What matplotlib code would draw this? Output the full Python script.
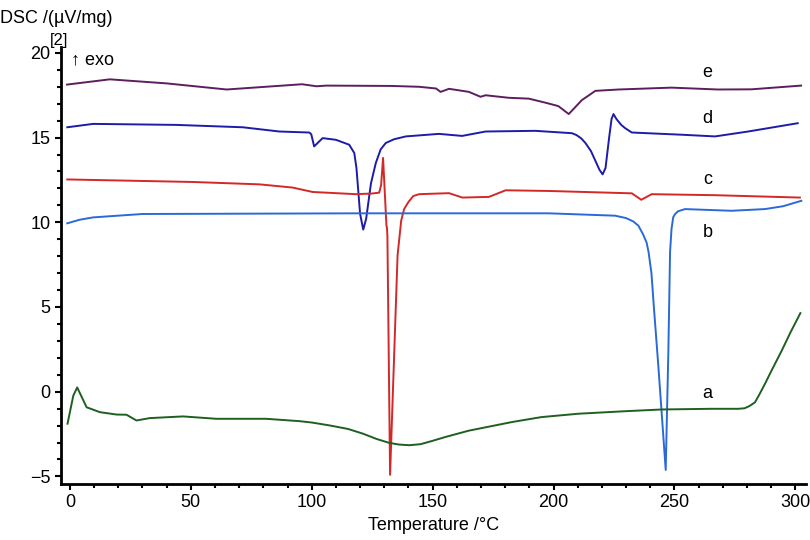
import numpy as np
import matplotlib
matplotlib.use('Agg')
import matplotlib.pyplot as plt
from matplotlib.ticker import MultipleLocator

plt.rcParams['font.family'] = ['Liberation Sans', 'DejaVu Sans']

#%% data (temperature /°C, DSC /(µV/mg))
T_e = [-1.2, 16.5, 40, 64.8, 96, 102, 106, 133, 144.4, 151.4, 153.3, 156.8, 165, 169.8, 171.9,
       181.5, 189.8, 196.7, 202, 206.3, 211.7, 217.3, 226.9, 248.8, 268, 281.8, 302.4]
y_e = [18.13, 18.44, 18.2, 17.84, 18.15, 18.03, 18.07, 18.05, 18.0, 17.9, 17.7, 17.88, 17.7, 17.41, 17.5,
       17.35, 17.3, 17.06, 16.86, 16.39, 17.21, 17.76, 17.84, 17.95, 17.84, 17.85, 18.07]

T_d = [-1.1, 9.6, 44, 71.5, 86.6, 99, 99.8, 101, 104.5, 110, 115.5, 117.6, 118.5, 120, 121.3,
       122.5, 124.5, 126.5, 128.5, 130.6, 134, 138.9, 152.6, 162.2, 171.9, 192.5, 207.6, 209.5,
       211.5, 213.2, 215.5, 219, 220.3, 221.5, 223, 224, 224.8, 226, 228, 229.6, 232.4, 253,
       266.8, 280.5, 301]
y_d = [15.61, 15.81, 15.75, 15.61, 15.36, 15.3, 15.2, 14.48, 14.97, 14.87, 14.58, 14.09, 13.2, 10.5, 9.57,
       10.2, 12.3, 13.5, 14.3, 14.68, 14.9, 15.07, 15.22, 15.1, 15.36, 15.4, 15.26, 15.15,
       14.95, 14.68, 14.2, 13.1, 12.83, 13.2, 15.0, 16.1, 16.39, 16.1, 15.75, 15.56, 15.3, 15.17,
       15.07, 15.36, 15.85]

T_c = [-1.1, 50.9, 78.4, 92.1, 100.4, 118.3, 125, 127.9, 128.7, 129.5, 130.9, 131.1, 131.3, 132.4,
       134.1, 135.5, 137, 138.2, 140, 142, 144.4, 156.8, 162.3, 173.3, 180.2, 198, 232.4, 236.3,
       240.6, 266.8, 301.9]
y_c = [12.53, 12.38, 12.24, 12.05, 11.79, 11.66, 11.7, 11.75, 12.2, 13.8, 9.8, 9.7, 9.2, -4.91,
       2.2, 8.05, 10.1, 10.78, 11.2, 11.55, 11.66, 11.72, 11.46, 11.5, 11.89, 11.85, 11.71, 11.33,
       11.66, 11.6, 11.46]

T_b = [-1.1, 4, 9.6, 30, 119.6, 198, 225.5, 230, 233, 235.1, 237, 238.5, 239.3, 240.5, 241.5,
       243.4, 246.4, 247.5, 248.2, 248.8, 249.5, 250.3, 251.5, 254.4, 273.6, 287.4, 295, 302.5]
y_b = [9.94, 10.15, 10.29, 10.49, 10.53, 10.53, 10.39, 10.25, 10.05, 9.8, 9.3, 8.8, 8.25, 7.0, 5.0,
       1.42, -4.62, 2.4, 8.25, 9.6, 10.3, 10.49, 10.65, 10.78, 10.68, 10.78, 10.95, 11.27]

T_a = [-1, 1.4, 3, 4.5, 6.9, 12.4, 19.3, 23.4, 27.5, 33, 46.8, 60.5, 81.1, 94.9, 100, 107.3,
       115, 121, 127, 132, 136, 140.3, 145, 150, 155.4, 165, 182.9, 195, 210.4, 230, 244.8,
       265.4, 276.4, 279, 281, 283.3, 285, 287.4, 290, 294.3, 298, 302.1]
y_a = [-1.89, -0.23, 0.25, -0.2, -0.92, -1.21, -1.35, -1.36, -1.7, -1.56, -1.46, -1.6, -1.6, -1.74, -1.82, -1.99,
       -2.2, -2.47, -2.8, -3.02, -3.12, -3.16, -3.1, -2.9, -2.67, -2.3, -1.79, -1.5, -1.3, -1.15, -1.05,
       -1.01, -1.01, -0.98, -0.85, -0.63, -0.2, 0.45, 1.2, 2.4, 3.5, 4.64]

labels = ['e', 'd', 'c', 'b', 'a']
label_y = [18.83, 16.1, 12.5, 9.4, -0.1]
colors = ['#5c1e5e', '#1c1ca8', '#d42828', '#2a6ad6', '#1f5f1f']

#%%
fig = plt.figure(figsize=(8.1, 5.4), dpi=100)
ax = fig.add_axes([0.0753, 0.1037, 0.92, 0.8093])

for T, y, c in zip([T_e, T_d, T_c, T_b, T_a], [y_e, y_d, y_c, y_b, y_a], colors):
    ax.plot(T, y, color=c, lw=1.4)

for lab, ly in zip(labels, label_y):
    ax.text(263.6, ly, lab, fontsize=13, ha='center', va='center')

ax.set_xlim(-3.7, 304.5)
ax.set_ylim(-5.45, 20.35)
ax.xaxis.set_major_locator(MultipleLocator(50))
ax.xaxis.set_minor_locator(MultipleLocator(10))
ax.yaxis.set_major_locator(MultipleLocator(5))
ax.yaxis.set_minor_locator(MultipleLocator(1))
ax.tick_params(which='major', length=4, width=1.5, labelsize=13, direction='out')
ax.tick_params(which='minor', length=3, width=1.5, direction='out')
ax.spines['top'].set_visible(False)
ax.spines['right'].set_visible(False)
ax.spines['left'].set_linewidth(2)
ax.spines['bottom'].set_linewidth(2)

ax.set_xlabel('Temperature /°C', fontsize=13)
fig.text(0.0, 0.965, 'DSC /(µV/mg)', fontsize=13, ha='left', va='center')
fig.text(0.073, 0.925, '[2]', fontsize=12, ha='center', va='center')
ax.text(0.4, 19.6, '↑ exo', fontsize=13, ha='left', va='center')

plt.savefig('out.png')
